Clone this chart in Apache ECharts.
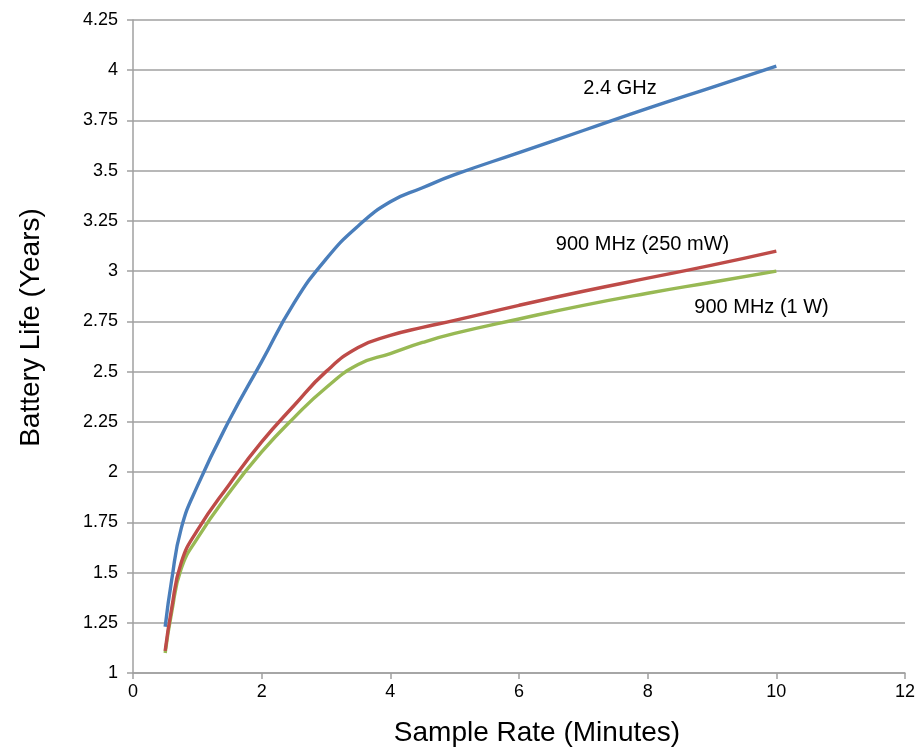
<!DOCTYPE html>
<html>
<head>
<meta charset="utf-8">
<script src="https://cdn.jsdelivr.net/npm/echarts@6/dist/echarts.min.js"></script>
<style>html,body{margin:0;padding:0;background:#fff}#c{width:919px;height:756px}</style>
</head>
<body>
<div id="c"></div>
<script>
var seriesNames = ['2.4 GHz', '900 MHz (250 mW)', '900 MHz (1 W)'];
var sampleRates = [0.5, 0.6, 0.75, 1, 1.5, 2, 2.5, 3, 3.5, 4, 4.5, 5, 6, 7, 8, 9, 10];
var blueValues  = [1.23, 1.46, 1.72, 1.93, 2.26, 2.55, 2.84, 3.06, 3.225, 3.345, 3.415, 3.48, 3.59, 3.70, 3.81, 3.915, 4.02];
var redValues   = [1.11, 1.32, 1.55, 1.71, 1.94, 2.15, 2.33, 2.50, 2.62, 2.68, 2.72, 2.755, 2.83, 2.90, 2.965, 3.03, 3.10];
var greenValues = [1.10, 1.30, 1.52, 1.67, 1.90, 2.10, 2.27, 2.42, 2.535, 2.59, 2.645, 2.69, 2.762, 2.83, 2.89, 2.945, 3.00];
var labelCoords = [[7.57,3.91],[7.92,3.135],[9.77,2.82]];
var colors = ['#4A7EBB','#BE4B48','#98B954'];
var xTicks = {min:0, max:12, interval:2};
var yTicks = {min:1, max:4.25, interval:0.25};

var font = "'Liberation Sans',Arial,sans-serif";
var chart = echarts.init(document.getElementById('c'));
var allValues = [blueValues, redValues, greenValues];
var series = allValues.map(function(vals, i){
  return {
    name: seriesNames[i], type:'line',
    data: sampleRates.map(function(x, k){ return [x, vals[k]]; }),
    smooth:0.5,
    showSymbol:false, symbol:'none',
    lineStyle:{color:colors[i], width:3.4}, itemStyle:{color:colors[i]},
    z: 3 - i,
    markPoint:{
      symbol:'circle', symbolSize:0,
      data:[{coord:labelCoords[i], value:seriesNames[i]}],
      label:{show:true, formatter:seriesNames[i], color:'#000', fontSize:20, fontFamily:font, position:'inside'}
    }
  };
});
chart.setOption({
  animation:false,
  backgroundColor:'#fff',
  grid:{left:133, right:14, top:20, bottom:83},
  xAxis:{type:'value', min:xTicks.min, max:xTicks.max, interval:xTicks.interval,
    name:'Sample Rate (Minutes)', nameLocation:'middle', nameGap:46,
    nameTextStyle:{fontSize:28, color:'#000', fontFamily:font, padding:[0,0,0,36]},
    axisLine:{show:true, lineStyle:{color:'#A0A0A0', width:1.5}},
    axisTick:{show:true, length:6, lineStyle:{color:'#A0A0A0', width:1.5}},
    axisLabel:{fontSize:18, color:'#000', fontFamily:font, margin:10},
    splitLine:{show:false}},
  yAxis:{type:'value', min:yTicks.min, max:yTicks.max, interval:yTicks.interval,
    name:'Battery Life (Years)', nameLocation:'middle', nameGap:88, nameRotate:90,
    nameTextStyle:{fontSize:28, color:'#000', fontFamily:font, padding:[0,0,0,38]},
    axisLine:{show:true, lineStyle:{color:'#A0A0A0', width:1.5}},
    axisTick:{show:true, length:6, lineStyle:{color:'#A0A0A0', width:1.5}},
    axisLabel:{fontSize:18, color:'#000', fontFamily:font, margin:15, formatter:function(v){return String(+v.toFixed(2));}},
    splitLine:{show:true, lineStyle:{color:'#A0A0A0', width:1.5}}},
  series: series
});
</script>
</body>
</html>
